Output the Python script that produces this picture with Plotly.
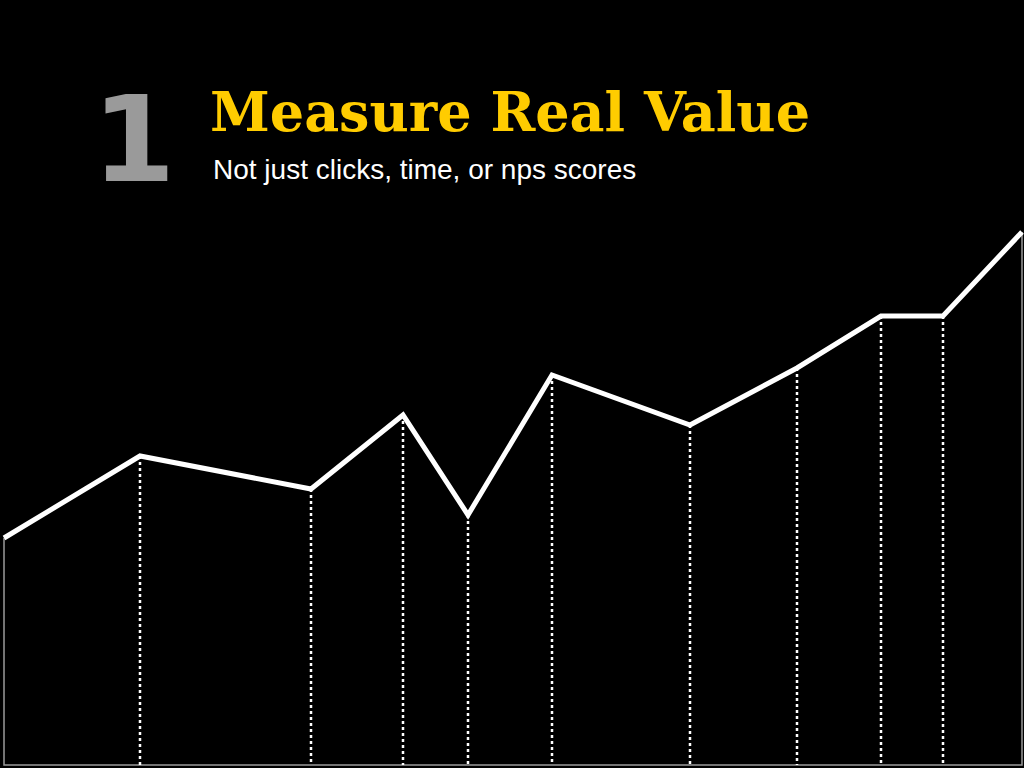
import plotly.graph_objects as go

# vertices of the trend line (x along the slide, y measured up from the baseline)
pts_x = [4, 140, 311, 403, 468, 552, 690, 797, 881, 943, 1022]
pts_y = [227, 309, 276, 350, 250, 390, 340, 397, 449, 449, 533]

number_label = "1"
title_text = "Measure Real Value"
subtitle_text = "Not just clicks, time, or nps scores"

fig = go.Figure()

# thin grey outline: left side, baseline, right side
fig.add_trace(go.Scatter(
    x=[pts_x[0], pts_x[0], pts_x[-1], pts_x[-1]],
    y=[pts_y[0], 0, 0, pts_y[-1]],
    mode="lines",
    line=dict(color="#9a9a9a", width=1.5),
    hoverinfo="skip",
))

# dotted drop lines from the inner vertices
drop_x, drop_y = [], []
for xv, yv in zip(pts_x[1:-1], pts_y[1:-1]):
    drop_x += [xv, xv, None]
    drop_y += [yv, 0, None]
fig.add_trace(go.Scatter(
    x=drop_x, y=drop_y,
    mode="lines",
    line=dict(color="white", width=2.5, dash="dot"),
    hoverinfo="skip",
))

# the main line
fig.add_trace(go.Scatter(
    x=pts_x, y=pts_y,
    mode="lines",
    line=dict(color="white", width=5),
))


def py(pix):
    # pixel from top -> paper coordinate
    return 1 - pix / 768


fig.add_annotation(text="<b>" + number_label + "</b>", x=90, y=py(139), xref="x", yref="paper",
                   xanchor="left", yanchor="middle", showarrow=False,
                   font=dict(family="DejaVu Sans", size=120, color="#9a9a9a"))
fig.add_annotation(text="<b>" + title_text + "</b>", x=208, y=py(112), xref="x", yref="paper",
                   xanchor="left", yanchor="middle", showarrow=False,
                   font=dict(family="DejaVu Serif", size=54, color="#ffcc00"))
fig.add_annotation(text=subtitle_text, x=211, y=py(169), xref="x", yref="paper",
                   xanchor="left", yanchor="middle", showarrow=False,
                   font=dict(family="Liberation Sans", size=28, color="white"))

fig.update_layout(
    width=1024, height=768,
    margin=dict(l=0, r=0, t=0, b=0),
    paper_bgcolor="black", plot_bgcolor="black",
    showlegend=False,
    xaxis=dict(range=[0, 1024], visible=False, fixedrange=True),
    yaxis=dict(range=[-3, 765], visible=False, fixedrange=True),
)

fig.write_html("out.html", config={"displayModeBar": False},
               post_script="document.body.style.margin='0';document.body.style.background='black';")
